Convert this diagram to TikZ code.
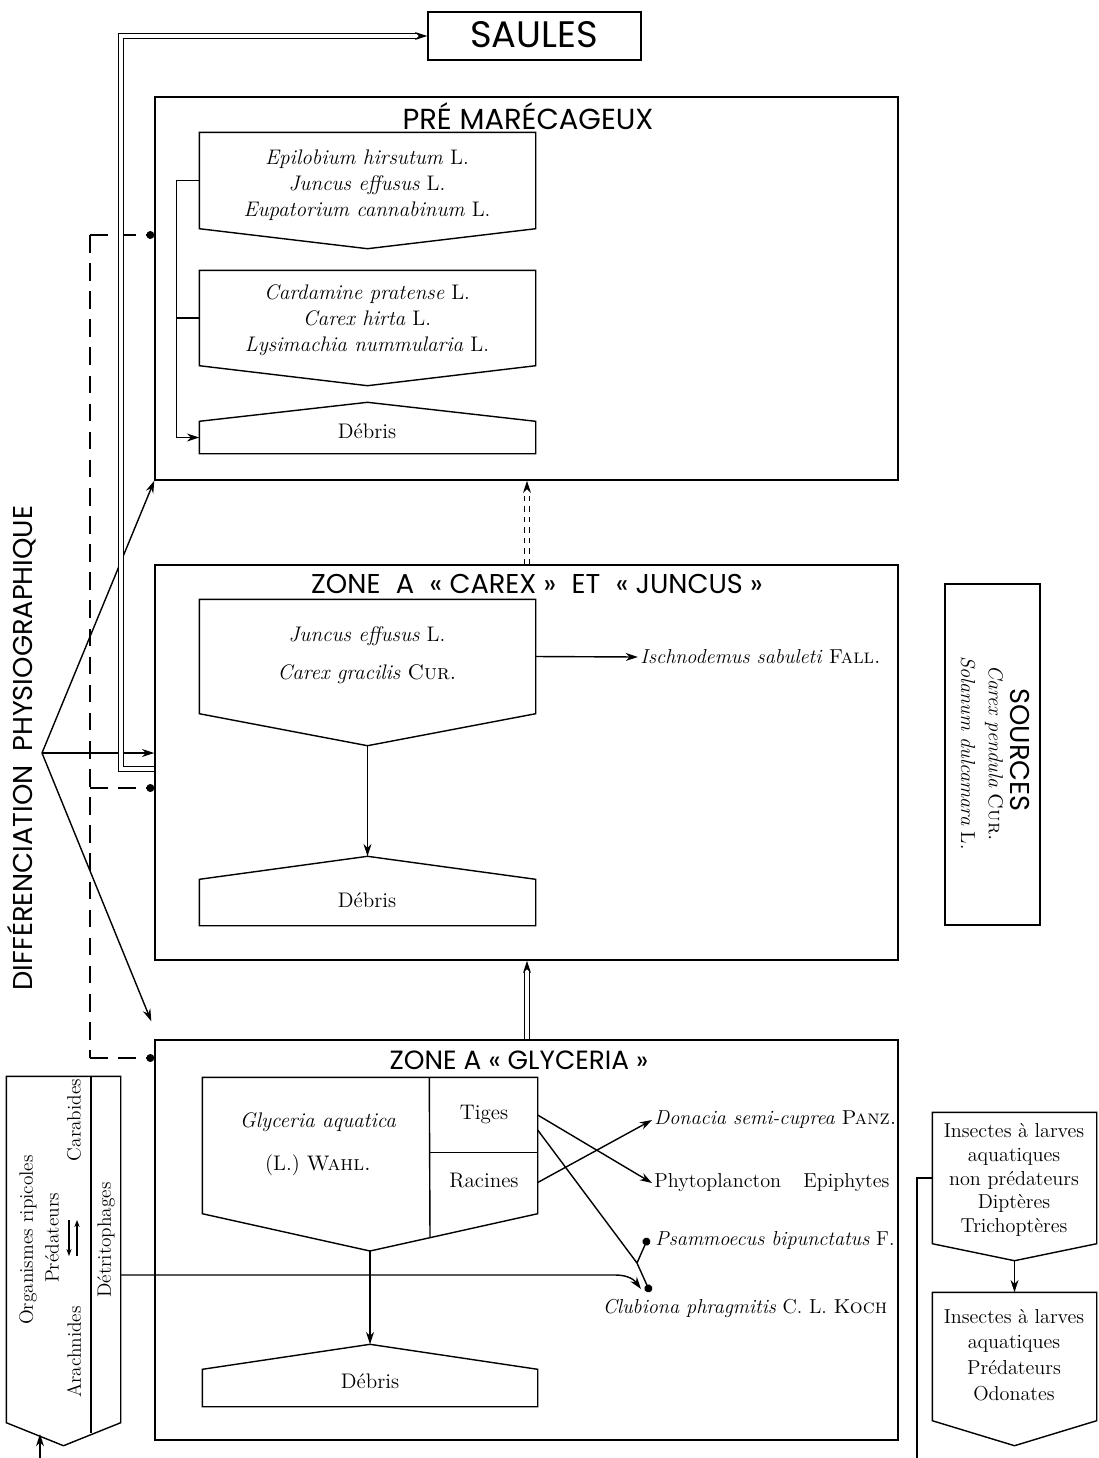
\documentclass[tikz,border=0pt]{standalone}
\usepackage{fontspec}
\newfontfamily\headfont{Poppins}
\usetikzlibrary{arrows.meta,calc,fit}

\newcommand\downpent[2]{\draw (#1.south west) -- (#1.north west) -- (#1.north east) -- (#1.south east) -- ($(#1.south)+(0,#2)$) coordinate (#1-tip) -- cycle;}
\newcommand\uppent[2]{\draw (#1.north west) -- (#1.south west) -- (#1.south east) -- (#1.north east) -- ($(#1.north)+(0,-#2)$) coordinate (#1-tip) -- cycle;}

\begin{document}
\begin{tikzpicture}[x=0.02cm, y=-0.02cm, line width=0.8pt, >={Stealth[length=7pt,width=4.5pt]},
  area/.style={fit={#1}, inner sep=0pt},
  zone/.style={draw, fit={#1}, inner sep=0pt},
  spec/.style={font=\fontsize{12}{14.7}\selectfont, align=center, inner sep=0pt},
  head/.style={font=\headfont\fontsize{#1}{#1}\selectfont, inner sep=0pt},
  lab/.style={font=\fontsize{11.5}{14}\selectfont, inner sep=1pt},
  side/.style={font=\fontsize{11}{13}\selectfont, rotate=90, inner sep=0pt},
  dbl/.style={double, double distance=2.5pt, line width=0.6pt},
  dashline/.style={dash pattern=on 10pt off 6pt},
  dot/.style={-{Circle[length=4.5pt]}}]
\useasboundingbox (0,0) rectangle (1099,1458);

\node[draw, area={(428,12) (641,60)}] (saules) {}; \node[head=21] (saulestxt) at (534,35) {SAULES};
\node[zone={(155,97) (898,480)}] (pre) {}; \node[head=16.5] (pretitle) at (528,116) {PRÉ MARÉCAGEUX};
\node[zone={(155,565) (898,960)}] (carex) {}; \node[head=15.5] (carextitle) at (537,584) {ZONE\hspace{0.3em} A\hspace{0.3em} « CAREX »\hspace{0.3em} ET\hspace{0.3em} « JUNCUS »};
\node[zone={(155,1040) (898,1440)}] (gly) {}; \node[head=15] (glytitle) at (519,1060) {ZONE A « GLYCERIA »};

% pré marécageux
\node[area={(200,133) (535,228)}] (epi) {}; \downpent{epi}{20}
\node[spec] (epitxt) at (367,185) {\textit{Epilobium hirsutum} L.\\\textit{Juncus effusus} L.\\\textit{Eupatorium cannabinum} L.};
\node[area={(200,271) (535,365)}] (card) {}; \downpent{card}{20}
\node[spec] (cardtxt) at (367,320) {\textit{Cardamine pratense} L.\\\textit{Carex hirta} L.\\\textit{Lysimachia nummularia} L.};
\node[area={(200,422) (535,453)}] (deb1) {}; \uppent{deb1}{19}
\node[spec] (deb1txt) at (367,431) {Débris};
\draw[->] (epi.west) -- ++(-23,0) |- (deb1.west); \draw (card.west) -- ++(-23,0);

% zone a carex et juncus
\node[area={(200,600) (535,713)}] (junc) {}; \downpent{junc}{32}
\node[spec] (junctxt) at (367,655) {\textit{Juncus effusus} L.\\[7pt]\textit{Carex gracilis} \textsc{Cur.}};
\node[lab, anchor=west] (ischno) at (638,657) {\textit{Ischnodemus sabuleti} \textsc{Fall.}};
\draw[->] (junc.east) -- (ischno.west);
\node[area={(200,880) (535,925)}] (deb2) {}; \uppent{deb2}{23}
\node[spec] (deb2txt) at (367,900) {Débris};
\draw[->] (junc-tip) -- (deb2-tip);

% zone a glyceria
\node[area={(203,1078) (430,1213)}] (glyc) {};
\node[area={(430,1078) (537,1152)}] (tig) {};
\node[area={(430,1152) (537,1213)}] (rac) {};
\draw (glyc.south west) -- (glyc.north west) -- (tig.north east) -- (rac.south east) -- (370,1251) coordinate (glyc-tip) -- cycle;
\draw (tig.north west) -- (430,1237); \draw (tig.south west) -- (tig.south east);
\node[spec] (glyctxt) at (318,1144) {\textit{Glyceria aquatica}\\[10pt](L.) \textsc{Wahl.}};
\node[spec] (tigtxt) at (484,1114) {Tiges}; \node[spec] (ractxt) at (484,1181) {Racines};
\node[area={(203,1370) (537,1406)}] (deb3) {}; \uppent{deb3}{25}
\node[spec] (deb3txt) at (370,1381) {Débris};
\draw[->] (glyc-tip) -- (deb3-tip);
\node[lab, anchor=west] (donacia) at (652,1120) {\textit{Donacia semi-cuprea} \textsc{Panz.}};
\node[lab, anchor=west] (phyto) at (652,1183) {Phytoplancton\hspace{1.1em}Epiphytes};
\node[lab, anchor=west] (psam) at (653,1240) {\textit{Psammoecus bipunctatus} F.};
\node[lab] (club) at (745,1308) {\textit{Clubiona phragmitis} C. L. \textsc{Koch}};
\draw[->] (tig.east) -- (phyto.west); \draw[->] (rac.east) -- (donacia.west);
\coordinate (cbr) at (637,1263); \coordinate (cdot) at (650,1292); \coordinate (pdot) at (648,1238);
\draw[dot] ($(tig.east)+(0,15)$) -- (cbr) -- (cdot); \draw[dot] (cbr) -- (pdot);

% organismes ripicoles
\node[area={(7,1077) (120,1422)}] (org) {}; \downpent{org}{23}
\draw (org.north -| 91,0) -- (91,1433);
\node[side] (orgtxt) at (28,1240) {Organismes ripicoles};
\node[side] (pred) at (52,1238) {Prédateurs};
\node[side] (carab) at (74,1120) {Carabides};
\node[side] (arach) at (74,1352) {Arachnides};
\node[side] (detr) at (106,1240) {Détritophages};
\draw[->, >={Stealth[length=4pt,width=3pt]}] (69,1220) -- (69,1256); \draw[->, >={Stealth[length=4pt,width=3pt]}] (77,1256) -- (77,1220);
\coordinate (base) at (40,1458); \draw[->] (base) -- (40,1434);
\draw[->] (org.east |- 0,1275) -- (615,1275) .. controls (630,1275) and (635,1281) .. (641,1289);

% differenciation physiographique
\node[head=15.5, rotate=90] (diff) at (22,748) {DIFFÉRENCIATION\enspace PHYSIOGRAPHIQUE};
\coordinate (fork) at (42,753);
\draw[->] (fork) -- (pre.south west); \draw[->] (fork) -- (carex.west |- fork); \draw[->] (fork) -- ($(gly.north west)+(-3,-18)$);

% liaisons
\coordinate (dtop) at (90,235); \coordinate (dmid) at (90,788); \coordinate (dbot) at (90,1058);
\draw[dashline] (dtop) -- (dbot);
\draw[dashline, dot] (dtop) -- (pre.west |- dtop); \draw[dashline, dot] (dmid) -- (carex.west |- dmid); \draw[dashline, dot] (dbot) -- (gly.west |- dbot);
\draw[dbl, ->] (carex.west |- 0,769) -- (121,769) |- (saules.west);
\coordinate (upx) at (527,0);
\draw[dbl, dashed, ->] (carex.north -| upx) -- (pre.south -| upx);
\draw[dbl, ->] (gly.north -| upx) -- (carex.south -| upx);

% sources
\node[draw, area={(945,584) (1040,925)}] (src) {};
\node[head=15.5, rotate=-90] (srctitle) at (1020,750) {SOURCES};
\node[lab, rotate=-90] (carexp) at (994,753) {\textit{Carex pendula} \textsc{Cur.}};
\node[lab, rotate=-90] (solanum) at (968,753) {\textit{Solanum dulcamara} L.};

% insectes
\node[area={(933,1113) (1096,1243)}] (insA) {}; \downpent{insA}{17}
\node[spec, font=\fontsize{11.5}{13.6}\selectfont] (insAtxt) at (1014,1180) {Insectes à larves\\aquatiques\\non prédateurs\\Diptères\\Trichoptères};
\node[area={(933,1293) (1096,1420)}] (insB) {}; \downpent{insB}{25}
\node[spec, font=\fontsize{11.5}{14.7}\selectfont] (insBtxt) at (1014,1355) {Insectes à larves\\aquatiques\\Prédateurs\\Odonates};
\draw[->] (insA-tip) -- (insB.north);
\coordinate (rbot) at (917,1458); \draw (insA.west) -| (rbot);
\end{tikzpicture}
\end{document}
